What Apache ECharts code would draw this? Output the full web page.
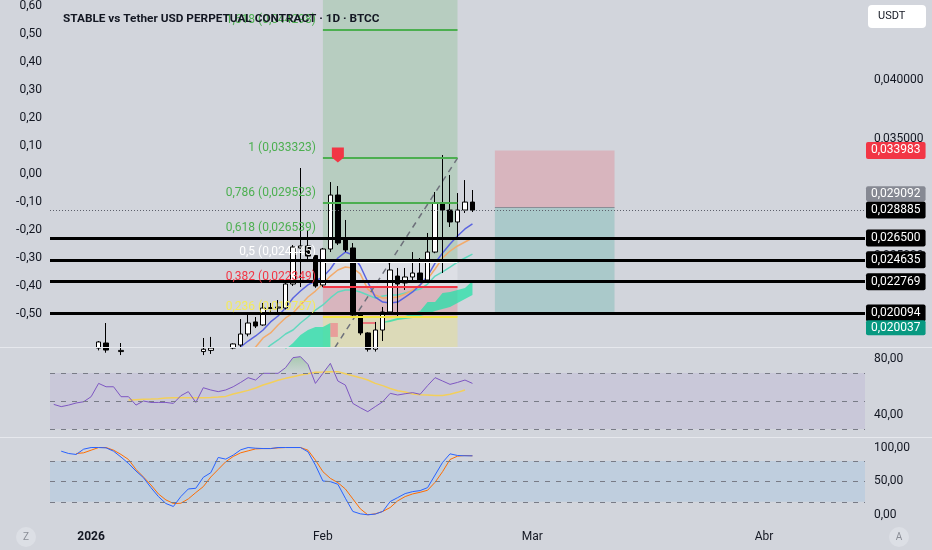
<!DOCTYPE html>
<html><head><meta charset="utf-8">
<script src="https://cdn.jsdelivr.net/npm/echarts@6/dist/echarts.min.js"></script>
<style>html,body{margin:0;padding:0;background:#d2d5dc}#c{width:932px;height:550px}</style>
</head><body><div id="c"></div>
<script>
// ---------- axis / tick data ----------
const axisStart = '2025-12-27';
const axisDays = 109;
const timeTickDates = ['2026-01-01', '2026-02-01', '2026-03-01', '2026-04-01'];
const timeTickLabels = ['2026', 'Feb', 'Mar', 'Abr'];
const priceTicks = [0.025, 0.035, 0.040];
const leftTicks = [-0.5, -0.4, -0.3, -0.2, -0.1, 0, 0.1, 0.2, 0.3, 0.4, 0.5, 0.6];
const rsiTicks = [40, 80];
const stochTicks = [0, 50, 100];
const yMin = 0.01719, yMax = 0.04683;
const leftMin = -0.6179, leftMax = 0.6214;

// ---------- candles ----------
const candleDates = ['2026-01-02','2026-01-03','2026-01-05','2026-01-16','2026-01-17','2026-01-20','2026-01-21','2026-01-22','2026-01-23','2026-01-24','2026-01-25','2026-01-26','2026-01-27','2026-01-28','2026-01-29','2026-01-30','2026-01-31','2026-02-01','2026-02-02','2026-02-03','2026-02-04','2026-02-05','2026-02-06','2026-02-07','2026-02-08','2026-02-09','2026-02-10','2026-02-11','2026-02-12','2026-02-13','2026-02-14','2026-02-15','2026-02-16','2026-02-17','2026-02-18','2026-02-19','2026-02-20','2026-02-21'];
const candleOpen  = [0.01710,0.01753,0.01680,0.01680,0.01690,0.01710,0.01736,0.01830,0.01933,0.01907,0.02048,0.02052,0.02052,0.02257,0.02565,0.02582,0.02500,0.02249,0.02556,0.03017,0.02641,0.02565,0.01992,0.01839,0.01700,0.01864,0.02018,0.02325,0.02266,0.02317,0.02351,0.02291,0.02530,0.02949,0.02889,0.02787,0.02889,0.02957];
const candleClose = [0.01762,0.01693,0.01690,0.01700,0.01710,0.01745,0.01830,0.01924,0.01898,0.02052,0.02056,0.02060,0.02257,0.02573,0.02582,0.02496,0.02240,0.02556,0.03017,0.02607,0.02548,0.01992,0.01839,0.01700,0.01864,0.02018,0.02377,0.02257,0.02317,0.02351,0.02291,0.02530,0.02949,0.02889,0.02787,0.02889,0.02957,0.028885];
const candleLow   = [0.01690,0.01670,0.01650,0.01650,0.01660,0.01700,0.01720,0.01810,0.01881,0.01900,0.01992,0.01992,0.02040,0.02240,0.02231,0.02462,0.02225,0.02230,0.02530,0.02590,0.02530,0.01975,0.01820,0.01680,0.01680,0.01770,0.02010,0.01975,0.02206,0.02291,0.02283,0.02280,0.02520,0.02351,0.02744,0.02659,0.02864,0.02872];
const candleHigh  = [0.01770,0.01924,0.01753,0.01796,0.01805,0.01750,0.01958,0.02009,0.01975,0.02095,0.02095,0.02120,0.02274,0.02590,0.03248,0.02718,0.02505,0.02565,0.03128,0.03094,0.02804,0.02607,0.02000,0.01845,0.01933,0.02061,0.02436,0.02394,0.02394,0.02530,0.02479,0.02693,0.03043,0.03359,0.03188,0.03034,0.03145,0.03060];

// ---------- moving averages ----------
const maBlueStart = '2026-01-20';
const maBlue = [0.01676,0.01719,0.01770,0.01813,0.01864,0.01933,0.01984,0.02052,0.02138,0.02197,0.02249,0.02283,0.02317,0.02385,0.02479,0.02530,0.02505,0.02411,0.02274,0.02146,0.02103,0.02095,0.02103,0.02146,0.02189,0.02249,0.02325,0.02436,0.02522,0.02599,0.02667,0.02727,0.02770];
const maOrangeStart = '2026-01-22';
const maOrange = [0.01676,0.01719,0.01796,0.01839,0.01907,0.01967,0.02009,0.02078,0.02146,0.02197,0.02257,0.02325,0.02377,0.02402,0.02394,0.02343,0.02214,0.02163,0.02138,0.02138,0.02146,0.02172,0.02206,0.02249,0.02300,0.02385,0.02479,0.02539,0.02582,0.02616,0.02650];
const maTealStart = '2026-01-24';
const maTeal = [0.01676,0.01736,0.01779,0.01830,0.01864,0.01924,0.01975,0.02035,0.02078,0.02138,0.02189,0.02206,0.02206,0.02189,0.02163,0.02138,0.02155,0.02163,0.02163,0.02180,0.02197,0.02214,0.02257,0.02325,0.02360,0.02402,0.02445,0.02479,0.02513];

// ---------- cloud ----------
const cloudLeftStart = '2026-01-27';
const cloudLeftTop = [0.01700,0.01753,0.01822,0.01864,0.01890,0.01890,0.01924];
const cloudLeftBottom = [yMin,yMin,yMin,yMin,yMin,yMin,yMin];
const cloudPinkStart = '2026-02-02';
const cloudPinkTop = [0.01924,0.01924];
const cloudPinkBottom = [0.01805,0.01805];
const cloudRightStart = '2026-02-09';
const cloudRightTop = [0.019326,0.019496,0.019667,0.019838,0.020094,0.020265,0.021034,0.021034,0.021802,0.021888,0.022059,0.022229,0.022827];
const cloudRightBottom = [0.019240,0.019326,0.019496,0.019582,0.019667,0.019838,0.020009,0.020265,0.020436,0.020607,0.020948,0.021290,0.021632];
const spanBDates = ['2026-02-06','2026-02-07','2026-02-08'];
const spanBValues = [0.01924,0.01924,0.01924];

// ---------- fib retracement ----------
const fibStart = '2026-02-01', fibEnd = '2026-02-19';
const fibRatios = [1.618, 1, 0.786, 0.618, 0.5, 0.382, 0.236];
const fibPrices = [0.044298, 0.033323, 0.029523, 0.026539, 0.024445, 0.022349, 0.019757];
const fibZero = 0.015566;

// ---------- position tool & levels ----------
const posStart = '2026-02-24', posEnd = '2026-03-12';
const posStop = 0.033983, posEntry = 0.029092, posTarget = 0.020037;
const blackLevels = [0.026500, 0.024635, 0.022769, 0.020094];
const lastPrice = 0.028885;
const flagDate = '2026-02-03', flagPrice = 0.03359;

// ---------- oscillators ----------
const rsiStart = '2025-12-27';
const rsiValues = [47.6,46.0,47.1,48.6,49.5,53.1,62.6,60.2,60.2,53.1,53.1,47.1,50.0,49.0,49.0,49.0,48.3,53.8,56.7,49.0,59.5,57.9,56.7,57.9,60.2,63.3,66.7,65.0,69.8,69.8,69.8,73.8,81.0,81.7,76.2,62.6,69.8,76.9,64.3,61.4,48.3,45.2,42.4,46.0,49.5,55.5,54.3,55.2,56.0,54.8,61.0,66.7,64.3,61.9,63.3,65.0,62.6];
const rsiMaStart = '2026-01-06';
const rsiMaValues = [50.7,51.0,51.2,51.4,51.7,52.1,52.4,52.4,52.4,52.4,52.4,52.6,52.9,53.3,55.0,56.2,57.6,59.3,61.4,63.1,64.8,66.2,67.4,68.6,69.5,70.5,70.7,71.0,71.0,69.5,68.1,66.7,65.0,62.6,61.0,59.0,57.4,56.4,55.0,54.5,54.3,54.0,54.0,54.8,56.2,57.9];
const stochKStart = '2025-12-28';
const stochK = [94.6,91.2,89.8,97.6,100,100,99.5,94.6,85.9,76.6,65.4,55.6,41.0,27.8,17.6,13.2,27.8,39.0,40.0,56.1,62.9,85.4,82.9,88.8,96.6,100,99.0,98.5,98.5,100,100,100,100,93.7,74.1,50.7,49.8,45.9,25.4,5.9,2.4,1.0,2.0,5.9,20.5,26.3,32.2,35.1,36.6,41.0,59.5,78.0,90.7,88.3,87.8,87.8];
const stochDStart = '2025-12-30';
const stochD = [91.2,92.2,96.1,100,100,96.1,89.8,82.4,67.8,56.6,44.9,31.7,22.9,17.6,18.0,24.4,33.7,42.4,56.6,67.8,79.0,86.8,92.2,95.1,98.0,98.5,98.5,99.5,100,100,100,96.1,81.5,64.4,54.6,48.3,39.0,24.4,9.8,1.0,2.4,5.9,11.7,21.5,27.8,31.7,34.1,37.1,48.8,64.4,82.4,87.3,88.3,87.8];

// ---------- helpers ----------
function addDays(s, n) { const d = new Date(s + 'T00:00:00Z'); d.setUTCDate(d.getUTCDate() + n); return d.toISOString().slice(0, 10); }
const categories = [];
for (let i = 0; i < axisDays; i++) categories.push(addDays(axisStart, i));
const iOf = d => categories.indexOf(d);
const pairs = (start, vals) => vals.map((v, k) => [iOf(start) + k, v]);
const fmt = (v, d) => v.toFixed(d).replace('.', ',');
const FONT = 'Roboto';
const TXT = '#131722';

const candleData = categories.map(() => ['-', '-', '-', '-']);
candleDates.forEach((d, k) => { candleData[iOf(d)] = [candleOpen[k], candleClose[k], candleLow[k], candleHigh[k]]; });

function bandSeries(start, top, bottom, color, z) {
  const i0 = iOf(start);
  return {
    type: 'custom', coordinateSystem: 'cartesian2d', xAxisIndex: 0, yAxisIndex: 0, z: z, silent: true,
    data: [[i0, top[0]]],
    renderItem: function (params, api) {
      const pts = [];
      top.forEach((v, k) => pts.push(api.coord([i0 + k, v])));
      for (let k = bottom.length - 1; k >= 0; k--) pts.push(api.coord([i0 + k, bottom[k]]));
      return { type: 'polygon', shape: { points: pts }, style: { fill: color } };
    }
  };
}

function boxLabel(text, bg) {
  return { show: true, position: 'end', distance: 1, formatter: text, backgroundColor: bg, color: '#ffffff',
    padding: [2, 5, 1, 5], borderRadius: 2, fontSize: 12, lineHeight: 14, fontFamily: FONT };
}
function shiftedLabel(text, bg, up) {
  return { show: true, position: 'end', distance: 1,
    formatter: up ? '{bx|' + text + '}\n{gp| }' : '{gp| }\n{bx|' + text + '}',
    rich: { bx: { backgroundColor: bg, color: '#ffffff', padding: [2, 5, 1, 5], borderRadius: 2, fontSize: 12, lineHeight: 14, fontFamily: FONT },
            gp: { fontSize: 1, lineHeight: 28 } } };
}
const hidden = { color: 'rgba(0,0,0,0)', width: 0 };

const iF0 = iOf(fibStart), iF1 = iOf(fibEnd), iP0 = iOf(posStart), iP1 = iOf(posEnd);
const fibLineColors = ['#4caf50', '#4caf50', '#4caf50', '#4caf50', '#ffffff', '#f23645', '#f5e642'];
const fibTextColors = ['#4caf50', '#4caf50', '#4caf50', '#4caf50', '#ffffff', '#f23645', '#f3ea5c'];

const fmtRatio = r => String(r).replace('.', ',');

const option = {
  animation: false,
  backgroundColor: '#d2d5dc',
  textStyle: { fontFamily: FONT },
  title: { text: 'STABLE vs Tether USD PERPETUAL CONTRACT · 1D · BTCC', left: 58, top: 8,
    textStyle: { fontSize: 11.8, fontWeight: 'bold', color: TXT, fontFamily: FONT } },
  grid: [
    { left: 50, right: 67, top: 0, height: 347 },
    { left: 50, right: 67, top: 347, height: 90 },
    { left: 50, right: 67, top: 437, height: 86 }
  ],
  xAxis: [0, 1, 2].map(g => ({
    type: 'category', gridIndex: g, data: categories, boundaryGap: true,
    axisLine: { show: false }, axisTick: { show: false }, splitLine: { show: false },
    axisLabel: g === 2 ? {
      show: true, margin: 8, color: TXT, fontSize: 12, fontFamily: FONT,
      interval: (idx, val) => timeTickDates.indexOf(val) >= 0,
      formatter: val => { const k = timeTickDates.indexOf(val); if (k < 0) return ''; return k === 0 ? '{yr|' + timeTickLabels[k] + '}' : timeTickLabels[k]; },
      rich: { yr: { fontWeight: 'bold', fontSize: 12, color: TXT, fontFamily: FONT } }
    } : { show: false }
  })),
  yAxis: [
    { type: 'value', gridIndex: 0, position: 'right', min: yMin, max: yMax, splitLine: { show: false }, axisLine: { show: false }, axisTick: { show: false },
      axisLabel: { customValues: priceTicks, formatter: v => fmt(v, 6), color: TXT, fontSize: 12, margin: 9, fontFamily: FONT } },
    { type: 'value', gridIndex: 0, position: 'left', min: leftMin, max: leftMax, splitLine: { show: false }, axisLine: { show: false }, axisTick: { show: false },
      axisLabel: { customValues: leftTicks, formatter: v => fmt(v, 2), color: TXT, fontSize: 12, margin: 8, fontFamily: FONT } },
    { type: 'value', gridIndex: 1, position: 'right', min: 24.3, max: 88.6, splitLine: { show: false }, axisLine: { show: false }, axisTick: { show: false },
      axisLabel: { customValues: rsiTicks, formatter: v => fmt(v, 2), color: TXT, fontSize: 12, margin: 9, fontFamily: FONT } },
    { type: 'value', gridIndex: 2, position: 'right', min: -11.1, max: 115.5, splitLine: { show: false }, axisLine: { show: false }, axisTick: { show: false },
      axisLabel: { customValues: stochTicks, formatter: v => fmt(v, 2), color: TXT, fontSize: 12, margin: 9, fontFamily: FONT } }
  ],
  series: [
    // fib fills
    { type: 'line', name: 'fibFill', data: [], z: 1, silent: true,
      markArea: { silent: true, data: [
        [{ coord: [iF0, yMax], itemStyle: { color: 'rgba(76,175,80,0.2)' } }, { coord: [iF1, fibPrices[4]] }],
        [{ coord: [iF0, fibPrices[4]], itemStyle: { color: 'rgba(255,255,255,0.25)' } }, { coord: [iF1, fibPrices[5]] }],
        [{ coord: [iF0, fibPrices[5]], itemStyle: { color: 'rgba(242,54,69,0.2)' } }, { coord: [iF1, fibPrices[6]] }],
        [{ coord: [iF0, fibPrices[6]], itemStyle: { color: 'rgba(255,235,59,0.22)' } }, { coord: [iF1, yMin] }]
      ] },
      markLine: { silent: true, precision: 6, symbol: ['none', 'none'], label: { show: false },
        data: fibPrices.map((p, k) => [
          { coord: [iF0, p], lineStyle: { color: fibLineColors[k], width: 2, type: 'solid' } },
          { coord: [iF1, p] }
        ]) },
      markPoint: { silent: true, symbol: 'circle', symbolSize: 0,
        data: fibPrices.map((p, k) => ({
          coord: [iF0, p],
          label: { show: true, position: 'left', distance: 7, offset: [0, -10], color: fibTextColors[k], fontSize: 12, fontFamily: FONT,
            formatter: fmtRatio(fibRatios[k]) + ' (' + fmt(p, 6) + ')' }
        })) }
    },
    // position tool
    { type: 'line', name: 'position', data: [], z: 1, silent: true,
      markArea: { silent: true, data: [
        [{ coord: [iP0, posStop], itemStyle: { color: 'rgba(242,54,69,0.2)' } }, { coord: [iP1, posEntry] }],
        [{ coord: [iP0, posEntry], itemStyle: { color: 'rgba(8,153,129,0.2)' } }, { coord: [iP1, posTarget] }]
      ] },
      markLine: { silent: true, precision: 6, symbol: ['none', 'none'], label: { show: false },
        data: [[{ coord: [iP0, posEntry], lineStyle: { color: '#8a8d96', width: 1, type: 'solid' } }, { coord: [iP1, posEntry] }]] }
    },
    // cloud
    bandSeries(cloudLeftStart, cloudLeftTop, cloudLeftBottom, 'rgba(38,224,168,0.75)', 2),
    bandSeries(cloudPinkStart, cloudPinkTop, cloudPinkBottom, 'rgba(242,110,130,0.55)', 2),
    bandSeries(cloudRightStart, cloudRightTop, cloudRightBottom, 'rgba(38,224,168,0.75)', 2),
    { type: 'line', data: spanBDates.map((d, k) => [iOf(d), spanBValues[k]]), symbol: 'none', z: 2, silent: true,
      lineStyle: { color: '#ef5a6a', width: 1.5 } },
    // moving averages
    { type: 'line', data: pairs(maTealStart, maTeal), symbol: 'none', z: 3, silent: true, lineStyle: { color: '#62d8bf', width: 1.5 } },
    { type: 'line', data: pairs(maOrangeStart, maOrange), symbol: 'none', z: 3, silent: true, lineStyle: { color: '#f2ab6c', width: 1.5 } },
    { type: 'line', data: pairs(maBlueStart, maBlue), symbol: 'none', z: 3, silent: true, lineStyle: { color: '#5a64e0', width: 1.5 } },
    // fib trend line
    { type: 'line', data: [[iF0, fibZero], [iF1, fibPrices[1]]], symbol: 'none', z: 3, silent: true,
      lineStyle: { color: '#6e717b', width: 1.5, type: [6, 5] } },
    // candles
    { type: 'candlestick', data: candleData, barWidth: 5, clip: true, z: 4,
      itemStyle: { color: '#ffffff', color0: '#000000', borderColor: '#000000', borderColor0: '#000000', borderWidth: 1 } },
    // horizontal levels + price labels
    { type: 'line', name: 'levels', data: [], z: 5, silent: true,
      markLine: { silent: true, precision: 6, symbol: ['none', 'none'], data: [
        ...blackLevels.map(v => ({ yAxis: v, lineStyle: { color: '#000000', width: 3, type: 'solid' }, label: boxLabel(fmt(v, 6), '#000000') })),
        { yAxis: lastPrice, lineStyle: { color: '#5d606b', width: 1, type: [1, 2] }, label: boxLabel(fmt(lastPrice, 6), '#000000') },
        { yAxis: posStop, lineStyle: hidden, label: boxLabel(fmt(posStop, 6), '#f23645') },
        { yAxis: posEntry, lineStyle: hidden, label: shiftedLabel(fmt(posEntry, 6), '#868993', true) },
        { yAxis: posTarget, lineStyle: hidden, label: shiftedLabel(fmt(posTarget, 6), '#089981', false) }
      ] },
      markPoint: { silent: true, data: [{ coord: [iOf(flagDate), flagPrice], symbol: 'path://M0,0 L12,0 L12,10 L6,15 L0,10 Z',
        symbolSize: [12, 15], itemStyle: { color: '#f23645' }, label: { show: false } }] }
    },
    // RSI pane
    { type: 'line', xAxisIndex: 1, yAxisIndex: 2, data: [], z: 1, silent: true,
      markArea: { silent: true, data: [[{ yAxis: 30, itemStyle: { color: 'rgba(126,87,194,0.1)' } }, { yAxis: 70 }]] },
      markLine: { silent: true, symbol: ['none', 'none'], label: { show: false }, lineStyle: { color: '#787b86', width: 1, type: [5, 6] },
        data: [{ yAxis: 70 }, { yAxis: 50 }, { yAxis: 30 }] } },
    // overbought gradient fill (only visible above the 70 line)
    { type: 'line', xAxisIndex: 1, yAxisIndex: 2, data: pairs(rsiStart, rsiValues), symbol: 'none', z: 1, silent: true,
      lineStyle: { width: 0, color: 'rgba(0,0,0,0)' },
      areaStyle: { origin: 'start', color: { type: 'linear', x: 0, y: 352, x2: 0, y2: 373.5, global: true,
        colorStops: [{ offset: 0, color: 'rgba(76,175,80,0.55)' }, { offset: 0.97, color: 'rgba(76,175,80,0.08)' }, { offset: 1, color: 'rgba(76,175,80,0)' }] } } },
    { type: 'line', xAxisIndex: 1, yAxisIndex: 2, data: pairs(rsiStart, rsiValues), symbol: 'none', z: 3, silent: true,
      lineStyle: { color: '#7e57c2', width: 1 } },
    { type: 'line', xAxisIndex: 1, yAxisIndex: 2, data: pairs(rsiMaStart, rsiMaValues), symbol: 'none', z: 2, silent: true,
      lineStyle: { color: '#f3cf5a', width: 1.5 } },
    // Stochastic pane
    { type: 'line', xAxisIndex: 2, yAxisIndex: 3, data: [], z: 1, silent: true,
      markArea: { silent: true, data: [[{ yAxis: 20, itemStyle: { color: 'rgba(33,150,243,0.1)' } }, { yAxis: 80 }]] },
      markLine: { silent: true, symbol: ['none', 'none'], label: { show: false }, lineStyle: { color: '#787b86', width: 1, type: [5, 6] },
        data: [{ yAxis: 80 }, { yAxis: 50 }, { yAxis: 20 }] } },
    { type: 'line', xAxisIndex: 2, yAxisIndex: 3, data: pairs(stochDStart, stochD), symbol: 'none', z: 2, silent: true,
      lineStyle: { color: '#ff6d00', width: 1 } },
    { type: 'line', xAxisIndex: 2, yAxisIndex: 3, data: pairs(stochKStart, stochK), symbol: 'none', z: 3, silent: true,
      lineStyle: { color: '#2962ff', width: 1 } }
  ],
  graphic: [
    { type: 'line', silent: true, z: 50, shape: { x1: 0, y1: 347.5, x2: 932, y2: 347.5 }, style: { stroke: '#e6e8ed', lineWidth: 1 } },
    { type: 'line', silent: true, z: 50, shape: { x1: 0, y1: 437.5, x2: 932, y2: 437.5 }, style: { stroke: '#e6e8ed', lineWidth: 1 } },
    { type: 'group', left: 868, top: 5, z: 60, children: [
      { type: 'rect', shape: { x: 0, y: 0, width: 58, height: 23, r: 4 }, style: { fill: '#ffffff' } },
      { type: 'text', x: 10, y: 11.5, style: { text: 'USDT', fill: TXT, font: '11px Roboto', textVerticalAlign: 'middle' } }
    ] },
    { type: 'group', left: 16, top: 527, z: 60, children: [
      { type: 'circle', shape: { cx: 10, cy: 10, r: 10 }, style: { fill: '#dcdfe5' } },
      { type: 'text', x: 10, y: 10, style: { text: 'Z', fill: '#8a8d96', font: '10px Roboto', textAlign: 'center', textVerticalAlign: 'middle' } }
    ] },
    { type: 'group', left: 889, top: 527, z: 60, children: [
      { type: 'circle', shape: { cx: 10, cy: 10, r: 10 }, style: { fill: '#dcdfe5' } },
      { type: 'text', x: 10, y: 10, style: { text: 'A', fill: '#8a8d96', font: '10px Roboto', textAlign: 'center', textVerticalAlign: 'middle' } }
    ] }
  ]
};

const chart = echarts.init(document.getElementById('c'), null, { renderer: 'canvas' });
chart.setOption(option);
</script>
</body></html>
